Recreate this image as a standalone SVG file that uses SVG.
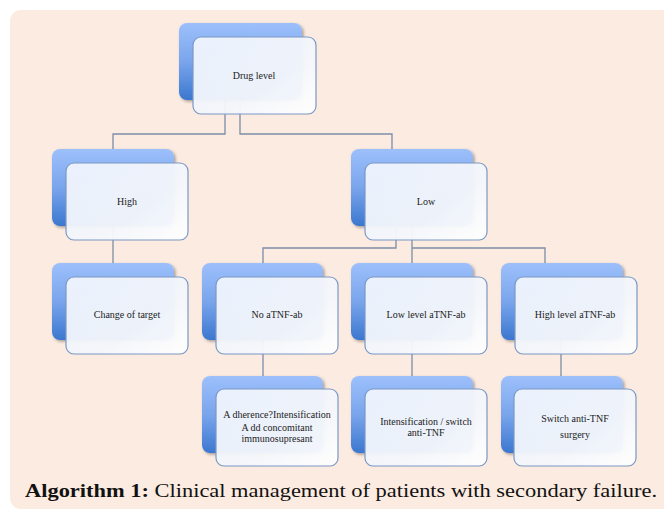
<svg xmlns="http://www.w3.org/2000/svg" width="664" height="513" viewBox="0 0 664 513">
<defs>
<linearGradient id="gb" x1="0" y1="0" x2="0" y2="1">
<stop offset="0" stop-color="#9dc0fb"/>
<stop offset="0.5" stop-color="#7aa5ec"/>
<stop offset="1" stop-color="#3b77cf"/>
</linearGradient>
<linearGradient id="gf" x1="0" y1="0" x2="1" y2="1">
<stop offset="0" stop-color="#eef3fd"/>
<stop offset="0.6" stop-color="#f3f6fb"/>
<stop offset="1" stop-color="#ffffff"/>
</linearGradient>
<filter id="sh" x="-10%" y="-10%" width="130%" height="130%">
<feDropShadow dx="1.5" dy="1.5" stdDeviation="1.5" flood-color="#000" flood-opacity="0.35"/>
</filter>
</defs>
<style>
.bk{fill:url(#gb);filter:url(#sh)}
.fr{fill:url(#gf);fill-opacity:0.96;stroke:#7a98c6;stroke-width:1.2}
.t{font-family:"Liberation Serif","DejaVu Serif",serif;font-size:10px;fill:#222;text-anchor:middle}
.c{fill:none;stroke:#7b8ea8;stroke-width:1.3}
</style>
<rect x="0" y="0" width="664" height="513" fill="#ffffff"/>
<rect x="10" y="10" width="670" height="499" rx="11" fill="#fcebe0"/>
<g id="connectors">
<path class="c" d="M225 100V134H113V149"/>
<path class="c" d="M240 100V134H392V149"/>
<path class="c" d="M113 226V263"/>
<path class="c" d="M396 226V248H263V263"/>
<path class="c" d="M412 226V263"/>
<path class="c" d="M412 248H545V263"/>
<path class="c" d="M263 340V376"/>
<path class="c" d="M412 340V376"/>
<path class="c" d="M561 340V376"/>
</g>
<g id="n-drug"><rect class="bk" x="179" y="23" width="123" height="77" rx="8"/><rect class="fr" x="193" y="37" width="123" height="77" rx="8"/><text class="t" x="254" y="79">Drug level</text></g>
<g id="n-high"><rect class="bk" x="52" y="149" width="122" height="77" rx="8"/><rect class="fr" x="66" y="163" width="122" height="77" rx="8"/><text class="t" x="127" y="205">High</text></g>
<g id="n-low"><rect class="bk" x="351" y="149" width="122" height="77" rx="8"/><rect class="fr" x="365" y="163" width="122" height="77" rx="8"/><text class="t" x="426" y="205">Low</text></g>
<g id="n-change"><rect class="bk" x="52" y="263" width="122" height="77" rx="8"/><rect class="fr" x="66" y="277" width="122" height="77" rx="8"/><text class="t" x="127" y="318">Change of target</text></g>
<g id="n-no"><rect class="bk" x="202" y="263" width="121" height="77" rx="8"/><rect class="fr" x="216" y="277" width="122" height="77" rx="8"/><text class="t" x="277" y="318">No aTNF-ab</text></g>
<g id="n-lowlevel"><rect class="bk" x="351" y="263" width="122" height="77" rx="8"/><rect class="fr" x="365" y="277" width="122" height="77" rx="8"/><text class="t" x="426" y="318">Low level aTNF-ab</text></g>
<g id="n-highlevel"><rect class="bk" x="501" y="263" width="122" height="77" rx="8"/><rect class="fr" x="515" y="277" width="122" height="77" rx="8"/><text class="t" x="575" y="318">High level aTNF-ab</text></g>
<g id="n-adh"><rect class="bk" x="202" y="376" width="121" height="77" rx="8"/><rect class="fr" x="216" y="389" width="122" height="77" rx="8"/><text class="t" x="277" y="418">A dherence?Intensification</text><text class="t" x="277" y="431">A dd concomitant</text><text class="t" x="277" y="442">immunosupresant</text></g>
<g id="n-int"><rect class="bk" x="351" y="376" width="122" height="77" rx="8"/><rect class="fr" x="365" y="389" width="122" height="77" rx="8"/><text class="t" x="426" y="425">Intensification / switch</text><text class="t" x="426" y="436">anti-TNF</text></g>
<g id="n-switch"><rect class="bk" x="501" y="376" width="122" height="77" rx="8"/><rect class="fr" x="514" y="389" width="122" height="77" rx="8"/><text class="t" x="575" y="422">Switch anti-TNF</text><text class="t" x="575" y="438">surgery</text></g>
<text x="25" y="497" font-family="Liberation Serif,DejaVu Serif,serif" font-size="18" fill="#111" textLength="632" lengthAdjust="spacingAndGlyphs"><tspan font-weight="bold">Algorithm 1:</tspan> Clinical management of patients with secondary failure.</text>
</svg>
